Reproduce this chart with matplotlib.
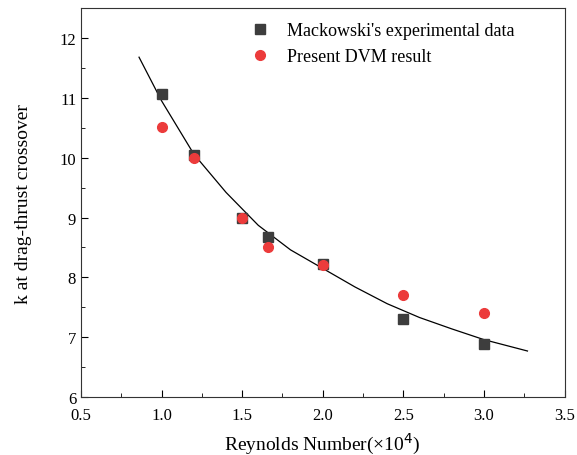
import numpy as np
import matplotlib
matplotlib.use('Agg')
import matplotlib.pyplot as plt

# Reynolds number (x1e4) and k at crossover
re_exp = [1.0, 1.2, 1.5, 1.66, 2.0, 2.5, 3.0]
k_exp = [11.07, 10.05, 9.0, 8.68, 8.23, 7.3, 6.88]

re_dvm = [1.0, 1.2, 1.5, 1.66, 2.0, 2.5, 3.0]
k_dvm = [10.51, 10.0, 9.0, 8.5, 8.2, 7.7, 7.4]

# fitted curve
re_fit = [0.86, 1.0, 1.2, 1.4, 1.6, 1.8, 2.0, 2.2, 2.4, 2.6, 2.8, 3.0, 3.27]
k_fit = [11.68, 10.95, 10.06, 9.42, 8.87, 8.46, 8.15, 7.84, 7.56, 7.33, 7.14, 6.96, 6.77]

plt.rcParams['font.family'] = ['Liberation Serif', 'DejaVu Serif']

fig = plt.figure(figsize=(5.77, 4.56), dpi=100)
ax = fig.add_axes([0.1404, 0.127, 0.838, 0.853])

ax.plot(re_fit, k_fit, color='black', lw=0.9)
ax.plot(re_exp, k_exp, 's', color='#3d3d3d', ms=7, label="Mackowski's experimental data")
ax.plot(re_dvm, k_dvm, 'o', color='#ec3b3b', ms=7, label='Present DVM result')

ax.set_xlim(0.5, 3.5)
ax.set_ylim(6, 12.5)
ax.set_xticks(np.arange(0.5, 3.51, 0.5))
ax.set_xticklabels(['%.1f' % v for v in np.arange(0.5, 3.51, 0.5)])
ax.set_yticks(range(6, 13))
ax.set_xticks(np.arange(0.75, 3.5, 0.5), minor=True)
ax.set_yticks(np.arange(6.5, 12.5, 1.0), minor=True)
ax.tick_params(which='both', direction='in', labelsize=12)
ax.tick_params(which='major', length=5)
ax.tick_params(which='minor', length=3)
ax.tick_params(axis='x', pad=7)
for s in ax.spines.values():
    s.set_color('#333333')

ax.set_xlabel('Reynolds Number(×10$^4$)', fontsize=14, labelpad=6)
ax.set_ylabel('k at drag-thrust crossover', fontsize=14, labelpad=20)

ax.legend(loc='upper left', frameon=False, fontsize=13, handletextpad=0.5,
          borderaxespad=0.0, bbox_to_anchor=(0.318, 0.982))

fig.savefig('out.png', dpi=100)
